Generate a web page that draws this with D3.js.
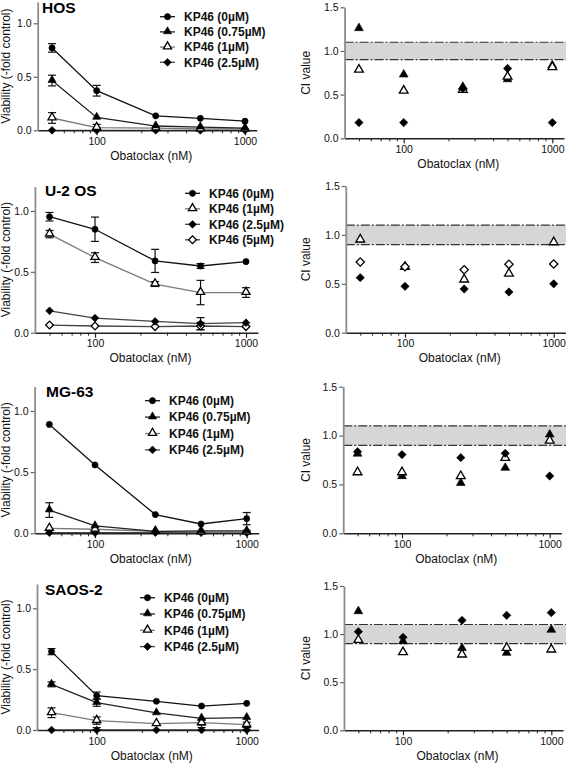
<!DOCTYPE html>
<html><head><meta charset="utf-8">
<script src="https://cdn.jsdelivr.net/npm/d3@7"></script>
<style>
html,body{margin:0;padding:0;background:#fff;}
svg{display:block;font-family:"Liberation Sans",Arial,Helvetica,sans-serif;}
</style></head>
<body><svg id="chart" width="566" height="765"></svg>
<script>
// ---------- data ----------
const doses = [50, 100, 250, 500, 1000];
const xTickMajor = [100, 1000];
const xTickMinor = [50, 60, 70, 80, 90, 200, 300, 400, 500, 600, 700, 800, 900];
const viabTicks = [0, 0.5, 1.0];
const ciTicks = [0, 0.5, 1.0, 1.5];
const ciBand = [0.9, 1.1];
const xLabel = "Obatoclax (nM)";
const viabLabel = "Viability (-fold control)";
const ciLabel = "CI value";

const hosSeries = ["KP46 (0µM)", "KP46 (0.75µM)", "KP46 (1µM)", "KP46 (2.5µM)"];
const hosMarkers = ["circle", "triangle", "triangleOpen", "diamond"];
const hosViab = [[0.77, 0.37, 0.135, 0.112, 0.085], [0.465, 0.12, 0.04, 0.03, 0.02], [0.115, 0.025, 0.02, 0.012, 0.012], [0, 0, 0, 0, 0]];
const hosErr = [[0.04, 0.05, 0.01, 0.01, 0.01], [0.05, 0.01, 0.01, 0.01, 0.01], [0.05, 0.03, 0.01, 0.01, 0.01], [0, 0.02, 0.01, 0.01, 0.01]];
const hosCI = [[1.256, 0.725, 0.584, 0.67, 0.83], [0.78, 0.54, 0.55, 0.70, 0.81], [0.18, 0.18, 0.57, 0.80, 0.18]];

const u2osSeries = ["KP46 (0µM)", "KP46 (1µM)", "KP46 (2.5µM)", "KP46 (5µM)"];
const u2osMarkers = ["circle", "triangleOpen", "diamond", "diamondOpen"];
const u2osViab = [[0.953, 0.85, 0.59, 0.548, 0.584], [0.81, 0.617, 0.40, 0.33, 0.33], [0.18, 0.12, 0.093, 0.074, 0.082], [0.063, 0.055, 0.05, 0.055, 0.05]];
const u2osErr = [[0.035, 0.1, 0.095, 0.02, 0.01], [0.03, 0.04, 0.02, 0.1, 0.04], [0.01, 0.01, 0.01, 0.05, 0.01], [0.01, 0.01, 0.01, 0.03, 0.01]];
const u2osCI = [[0.948, 0.668, 0.539, 0.60, 0.92], [0.563, 0.474, 0.447, 0.416, 0.50], [0.723, 0.675, 0.644, 0.699, 0.702]];

const mg63Series = ["KP46 (0µM)", "KP46 (0.75µM)", "KP46 (1µM)", "KP46 (2.5µM)"];
const mg63Markers = ["circle", "triangle", "triangleOpen", "diamond"];
const mg63Viab = [[0.89, 0.559, 0.153, 0.076, 0.12], [0.19, 0.06, 0.015, 0.02, 0.02], [0.04, 0.033, 0.015, 0.01, 0.01], [0.005, 0.005, 0.005, 0.005, 0.005]];
const mg63Err = [[0.01, 0.01, 0.01, 0.01, 0.05], [0.06, 0.01, 0.01, 0.01, 0.01], [0.01, 0.01, 0.01, 0.01, 0.01], [0.01, 0.01, 0.01, 0.01, 0.02]];
const mg63CI = [[0.81, 0.58, 0.51, 0.665, 1.006], [0.62, 0.62, 0.58, 0.767, 0.944], [0.835, 0.805, 0.774, 0.818, 0.586]];

const saosSeries = ["KP46 (0µM)", "KP46 (0.75µM)", "KP46 (1µM)", "KP46 (2.5µM)"];
const saosMarkers = ["circle", "triangle", "triangleOpen", "diamond"];
const saosViab = [[0.644, 0.282, 0.236, 0.197, 0.219], [0.375, 0.225, 0.14, 0.096, 0.101], [0.142, 0.077, 0.052, 0.06, 0.044], [0, 0, 0, 0, 0]];
const saosErr = [[0.025, 0.03, 0.01, 0.01, 0.01], [0.02, 0.03, 0.01, 0.01, 0.01], [0.04, 0.03, 0.01, 0.02, 0.02], [0, 0.02, 0, 0.02, 0.02]];
const saosCI = [[1.233, 0.92, 0.85, 0.80, 1.04], [0.935, 0.807, 0.783, 0.852, 0.835], [1.025, 0.966, 1.143, 1.195, 1.223]];

// ---------- layout ----------
const panels = [
  {title: "HOS", series: hosSeries, markers: hosMarkers, viab: hosViab, err: hosErr, ci: hosCI,
   L: {x100: 96.7, x1000: 245, y0: 130.3, y1: 23.3, titleX: 42, titleY: 12.5, legX: 160, legY: 16.7, legDy: 15.2, titleSize: 15.5},
   R: {x100: 403.7, x1000: 552.3, y0: 138.3, y15: 7.3}},
  {title: "U-2 OS", series: u2osSeries, markers: u2osMarkers, viab: u2osViab, err: u2osErr, ci: u2osCI,
   L: {x100: 95, x1000: 246, y0: 332.7, y1: 211, titleX: 45, titleY: 196, legX: 185, legY: 193.3, legDy: 15.5, titleSize: 15.5},
   R: {x100: 405, x1000: 553.7, y0: 332.7, y15: 186}},
  {title: "MG-63", series: mg63Series, markers: mg63Markers, viab: mg63Viab, err: mg63Err, ci: mg63CI,
   L: {x100: 95, x1000: 246.7, y0: 533.3, y1: 411, titleX: 46, titleY: 396.5, legX: 145, legY: 400.7, legDy: 16.4, titleSize: 15.5},
   R: {x100: 402, x1000: 549.7, y0: 533.3, y15: 386.7}},
  {title: "SAOS-2", series: saosSeries, markers: saosMarkers, viab: saosViab, err: saosErr, ci: saosCI,
   L: {x100: 96.7, x1000: 246.7, y0: 730, y1: 608.3, titleX: 45, titleY: 595, legX: 140, legY: 597.7, legDy: 16.3, titleSize: 15.5},
   R: {x100: 403, x1000: 551.3, y0: 730.3, y15: 586}}
];
const lineColor = {circle: "#111", triangle: "#222", triangleOpen: "#7a7a7a", diamond: "#444", diamondOpen: "#444"};

const svg = d3.select("#chart");

function logScale(x100, x1000) {
  const dec = x1000 - x100;
  const lo = x100 - (2 - Math.log10(40)) * dec;
  const hi = x1000 + (Math.log10(1200) - 3) * dec;
  return d3.scaleLog().domain([40, 1200]).range([lo, hi]);
}

function marker(g, type, x, y, big) {
  const k = big ? 1.15 : 1;
  let sym;
  if (type === "circle") sym = d3.symbol(d3.symbolCircle, 30 * k);
  else if (type.startsWith("triangle")) sym = d3.symbol(d3.symbolTriangle, 29 * k);
  else sym = d3.symbol(d3.symbolSquare, 30 * k);
  const open = type.endsWith("Open");
  const rot = type.startsWith("diamond") ? " rotate(45)" : "";
  const dy = type.startsWith("triangle") ? -0.5 : 0;
  g.append("path").attr("d", sym())
    .attr("transform", `translate(${x},${y + dy})${rot}`)
    .attr("fill", open ? "#fff" : "#000")
    .attr("stroke", "#000").attr("stroke-width", open ? 1.3 : 0.6);
}

function xAxes(g, x, y0) {
  const ax = g.append("g").attr("transform", `translate(0,${y0})`);
  ax.call(d3.axisBottom(x).tickValues(xTickMinor).tickSize(3).tickFormat("").tickSizeOuter(0));
  ax.call(g2 => g2.selectAll(".tick line").attr("stroke", "#222").attr("stroke-width", 1));
  const ax2 = g.append("g").attr("transform", `translate(0,${y0})`);
  ax2.call(d3.axisBottom(x).tickValues(xTickMajor).tickSize(5).tickSizeOuter(0).tickFormat(d3.format("d")));
  ax2.select(".domain").remove();
  ax2.selectAll(".tick line").attr("stroke", "#222").attr("stroke-width", 1.2);
  ax2.selectAll(".tick text").attr("font-size", 10.5).attr("fill", "#111").attr("dy", null).attr("y", 14.5);
  ax.select(".domain").attr("stroke", "#222").attr("stroke-width", 1.4);
  const [a, b] = x.range();
  g.append("text").attr("x", (a + b) / 2 + 4).attr("y", y0 + 29.5).attr("text-anchor", "middle")
    .attr("font-size", 12).attr("fill", "#111").text(xLabel);
}

function yAxis(g, y, ticks, xPos, label, labelX) {
  const ay = g.append("g").attr("transform", `translate(${xPos},0)`);
  ay.call(d3.axisLeft(y).tickValues(ticks).tickSize(4).tickSizeOuter(0).tickFormat(d3.format(".1f")));
  ay.select(".domain").attr("stroke", "#8c8c8c").attr("stroke-width", 1.8);
  ay.selectAll(".tick line").attr("stroke", "#666").attr("stroke-width", 1.2);
  ay.selectAll(".tick text").attr("font-size", 10.5).attr("fill", "#111").attr("x", -6);
  const [r0, r1] = y.range();
  g.append("text").attr("transform", `translate(${labelX},${(r0 + r1) / 2}) rotate(-90)`)
    .attr("text-anchor", "middle").attr("font-size", 12).attr("fill", "#111").text(label);
}

panels.forEach(p => {
  // ----- left viability panel -----
  const gl = svg.append("g");
  const xL = logScale(p.L.x100, p.L.x1000);
  const yL = d3.scaleLinear().domain([0, 1.2]).range([p.L.y0, p.L.y0 - 1.2 * (p.L.y0 - p.L.y1)]);
  const line = d3.line().x(d => xL(d[0])).y(d => yL(d[1]));
  for (let s = p.series.length - 1; s >= 0; s--) {
    const pts = doses.map((d, i) => [d, p.viab[s][i]]);
    gl.append("path").attr("d", line(pts)).attr("fill", "none")
      .attr("stroke", lineColor[p.markers[s]]).attr("stroke-width", 1.3);
  }
  p.series.forEach((name, s) => {
    doses.forEach((d, i) => {
      const e = p.err[s][i];
      if (e < 0.015) return;
      const cx = xL(d), ya = yL(p.viab[s][i] + e), yb = yL(Math.max(0, p.viab[s][i] - e));
      const eg = gl.append("g").attr("stroke", "#111").attr("stroke-width", 1.2);
      eg.append("line").attr("x1", cx).attr("x2", cx).attr("y1", ya).attr("y2", yb);
      eg.append("line").attr("x1", cx - 4).attr("x2", cx + 4).attr("y1", ya).attr("y2", ya);
      eg.append("line").attr("x1", cx - 4).attr("x2", cx + 4).attr("y1", yb).attr("y2", yb);
    });
  });
  xAxes(gl, xL, p.L.y0);
  yAxis(gl, yL, viabTicks, xL.range()[0], viabLabel, 10);
  for (let s = p.series.length - 1; s >= 0; s--) {
    doses.forEach((d, i) => marker(gl, p.markers[s], xL(d), yL(p.viab[s][i]), false));
  }
  gl.append("text").attr("x", p.L.titleX).attr("y", p.L.titleY).attr("font-size", p.L.titleSize)
    .attr("font-weight", "bold").attr("fill", "#000").text(p.title);
  p.series.forEach((name, s) => {
    const ly = p.L.legY + s * p.L.legDy;
    gl.append("line").attr("x1", p.L.legX).attr("x2", p.L.legX + 15).attr("y1", ly).attr("y2", ly)
      .attr("stroke", lineColor[p.markers[s]]).attr("stroke-width", 1.3);
    marker(gl, p.markers[s], p.L.legX + 7.5, ly, false);
    gl.append("text").attr("x", p.L.legX + 24).attr("y", ly + 4.3).attr("font-size", 12)
      .attr("font-weight", "bold").attr("fill", "#111").text(name);
  });

  // ----- right CI panel -----
  const gr = svg.append("g");
  const xR = logScale(p.R.x100, p.R.x1000);
  const yR = d3.scaleLinear().domain([0, 1.5]).range([p.R.y0, p.R.y15]);
  const [rx0, rx1] = xR.range();
  gr.append("rect").attr("x", rx0).attr("width", 566 - rx0)
    .attr("y", yR(ciBand[1])).attr("height", yR(ciBand[0]) - yR(ciBand[1])).attr("fill", "#d6d6d6");
  ciBand.forEach(v => {
    gr.append("line").attr("x1", rx0).attr("x2", 566).attr("y1", yR(v)).attr("y2", yR(v))
      .attr("stroke", "#333").attr("stroke-width", 1.2).attr("stroke-dasharray", "9,2,2,2");
  });
  xAxes(gr, xR, p.R.y0);
  yAxis(gr, yR, ciTicks, rx0, ciLabel, 310);
  const ciMarkers = p.markers.slice(1);
  ciMarkers.forEach((m, s) => {
    doses.forEach((d, i) => marker(gr, m, xR(d), yR(p.ci[s][i]), true));
  });
});
</script></body></html>
